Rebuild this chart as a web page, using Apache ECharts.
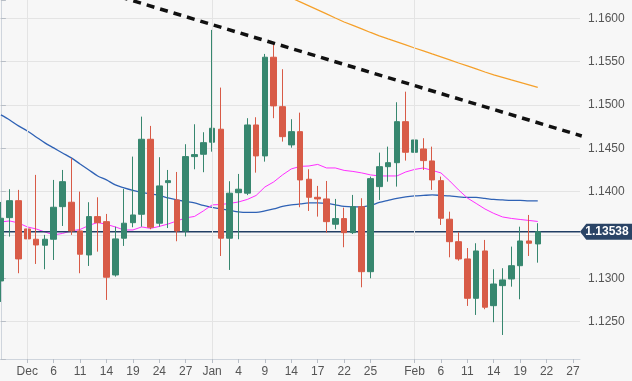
<!DOCTYPE html>
<html><head><meta charset="utf-8">
<script src="https://cdn.jsdelivr.net/npm/echarts@6/dist/echarts.min.js"></script>
<style>html,body{margin:0;padding:0;background:#f7f7f7}#c{width:632px;height:381px}</style>
</head><body><div id="c"></div><script>
const dates = [
 '2018-11-28','2018-11-29','2018-11-30',
 '2018-12-03','2018-12-04','2018-12-05','2018-12-06','2018-12-07',
 '2018-12-10','2018-12-11','2018-12-12','2018-12-13','2018-12-14',
 '2018-12-17','2018-12-18','2018-12-19','2018-12-20','2018-12-21',
 '2018-12-24','2018-12-25','2018-12-26','2018-12-27','2018-12-28','2018-12-31',
 '2019-01-01','2019-01-02','2019-01-03','2019-01-04',
 '2019-01-07','2019-01-08','2019-01-09','2019-01-10','2019-01-11',
 '2019-01-14','2019-01-15','2019-01-16','2019-01-17','2019-01-18',
 '2019-01-21','2019-01-22','2019-01-23','2019-01-24','2019-01-25',
 '2019-01-28','2019-01-29','2019-01-30','2019-01-31',
 '2019-02-01','2019-02-04','2019-02-05','2019-02-06','2019-02-07','2019-02-08',
 '2019-02-11','2019-02-12','2019-02-13','2019-02-14','2019-02-15',
 '2019-02-18','2019-02-19','2019-02-20','2019-02-21','2019-02-22',
 '2019-02-25','2019-02-26','2019-02-27','2019-02-28'
];
const open = [1.12970,1.13700,1.13896,1.13570,1.13451,1.13382,1.13451,1.13827,1.13878,1.13547,
 1.13270,1.13712,1.13654,1.13039,1.13463,1.13642,1.13739,1.14604,1.13636,1.14104,
 1.13904,1.13547,1.14404,1.14431,1.14570,1.14720,1.13463,1.13988,1.13982,1.14769,
 1.14412,1.15550,1.14980,1.14539,1.14692,1.14143,1.13935,1.13916,1.13624,1.13689,
 1.13527,1.13827,1.13077,1.14058,1.14288,1.14334,1.14807,1.14454,1.14492,1.14354,
 1.14127,1.13682,1.13423,1.13224,1.12770,1.13316,1.12685,1.12916,1.12993,1.13146,
 1.13431,1.13397];
const high = [1.13881,1.14028,1.14020,1.13809,1.14193,1.13501,1.14135,1.14250,1.14385,1.14000,
 1.13878,1.13935,1.13743,1.13596,1.14031,1.14404,1.14865,1.14758,1.14397,1.14250,
 1.14227,1.14547,1.14777,1.14685,1.15865,1.15200,1.14120,1.14204,1.14847,1.14858,
 1.15588,1.15723,1.15412,1.14835,1.14911,1.14258,1.14066,1.14123,1.13916,1.13815,
 1.13962,1.13924,1.14173,1.14450,1.14519,1.15031,1.15153,1.14904,1.14616,1.14519,
 1.14173,1.13769,1.13532,1.13350,1.13405,1.13443,1.13105,1.13117,1.13366,1.13596,
 1.13731,1.13636];
const low = [1.12728,1.13481,1.13059,1.13212,1.13166,1.13105,1.13212,1.13604,1.13501,1.13059,
 1.13143,1.13308,1.12751,1.13020,1.13374,1.13589,1.13596,1.13566,1.13596,1.13580,
 1.13428,1.13483,1.14258,1.14224,1.14461,1.13258,1.13097,1.13451,1.13960,1.14219,
 1.14346,1.14847,1.14577,1.14507,1.13820,1.13777,1.13712,1.13527,1.13566,1.13359,
 1.13512,1.12897,1.13001,1.13904,1.14115,1.14058,1.14358,1.14346,1.14250,1.14020,
 1.13616,1.13243,1.13204,1.12682,1.12578,1.12644,1.12494,1.12347,1.12904,1.12759,
 1.13258,1.13181];
const close = [1.13693,1.13896,1.13224,1.13455,1.13385,1.13451,1.13820,1.14115,1.13547,1.13278,
 1.13712,1.13642,1.13013,1.13455,1.13636,1.13731,1.14604,1.13589,1.14066,1.14127,
 1.13547,1.14404,1.14427,1.14565,1.14731,1.13463,1.13982,1.14028,1.14769,1.14412,
 1.15550,1.14989,1.14634,1.14692,1.14135,1.13935,1.13916,1.13654,1.13689,1.13527,
 1.13827,1.13077,1.14150,1.14288,1.14334,1.14807,1.14454,1.14596,1.14358,1.14135,
 1.13693,1.13423,1.13224,1.12770,1.13316,1.12667,1.12935,1.12982,1.13146,1.13431,
 1.13405,1.13538];
// moving averages, one value per candle
const maFast = [1.13651,1.13662,1.13639,1.13593,1.13570,1.13535,1.13501,1.13518,1.13547,1.13564,
 1.13610,1.13645,1.13622,1.13593,1.13558,1.13558,1.13593,1.13576,1.13599,1.13627,
 1.13662,1.13697,1.13714,1.13777,1.13847,1.13852,1.13864,1.13881,1.13910,1.13956,
 1.14054,1.14112,1.14193,1.14262,1.14291,1.14296,1.14314,1.14273,1.14273,1.14245,
 1.14233,1.14216,1.14193,1.14181,1.14181,1.14181,1.14227,1.14256,1.14273,1.14245,
 1.14216,1.14123,1.14020,1.13927,1.13864,1.13800,1.13749,1.13708,1.13691,1.13679,
 1.13668,1.13656];
const maMid = [1.14885,1.14827,1.14758,1.14700,1.14631,1.14562,1.14504,1.14446,1.14389,1.14319,
 1.14250,1.14181,1.14135,1.14077,1.14043,1.14014,1.13991,1.13973,1.13956,1.13927,
 1.13904,1.13887,1.13870,1.13841,1.13818,1.13800,1.13783,1.13766,1.13760,1.13760,
 1.13777,1.13800,1.13829,1.13847,1.13858,1.13870,1.13870,1.13864,1.13847,1.13829,
 1.13824,1.13824,1.13841,1.13875,1.13899,1.13922,1.13939,1.13950,1.13956,1.13962,
 1.13956,1.13950,1.13939,1.13933,1.13933,1.13922,1.13910,1.13904,1.13899,1.13899,
 1.13893,1.13893];
const maSlow = [null,null,null,null,null,null,null,null,null,null,
 null,null,null,null,null,null,null,null,null,null,
 null,null,null,null,null,null,null,null,null,null,
 1.16384,1.16338,1.16280,1.16234,1.16188,1.16142,1.16096,1.16050,1.16003,1.15957,
 1.15917,1.15877,1.15836,1.15796,1.15761,1.15727,1.15692,1.15657,1.15623,1.15588,
 1.15554,1.15519,1.15484,1.15450,1.15415,1.15380,1.15346,1.15317,1.15288,1.15260,
 1.15231,1.15202];
const trendDates = ['2018-12-14','2019-02-28'];
const trendValues = [1.16293, 1.14642];
const tickDates = ['2018-12-03','2018-12-06','2018-12-11','2018-12-14','2018-12-19','2018-12-24','2018-12-27',
 '2019-01-01','2019-01-04','2019-01-09','2019-01-14','2019-01-17','2019-01-22','2019-01-25',
 '2019-02-01','2019-02-06','2019-02-11','2019-02-14','2019-02-19','2019-02-22','2019-02-27'];
const tickLabels = ['Dec','6','11','14','19','24','27','Jan','4','9','14','17','22','25','Feb','6','11','14','19','22','27'];
const monthStarts = ['2018-12-03','2019-01-01','2019-02-01'];

const idx = d => dates.indexOf(d);
const tickPos = tickDates.map(idx);
const labelOf = {};
tickPos.forEach((p, i) => { labelOf[p] = tickLabels[i]; });
const candleData = open.map((o, i) => [i, o, close[i], low[i], high[i]]);
const lineData = arr => arr.map((v, i) => [i, v]);
const lastClose = close[close.length - 1];
const X_MIN = -0.1, X_MAX = 65.8;

const chart = echarts.init(document.getElementById('c'));
const font = 'Liberation Sans, Arial, sans-serif';
chart.setOption({
  animation: false,
  backgroundColor: '#f7f7f7',
  grid: { left: 0, right: 52, top: 0, bottom: 22 },
  xAxis: {
    type: 'value', min: X_MIN, max: X_MAX,
    axisLine: { show: true, lineStyle: { color: '#cfd5dd' } },
    axisTick: { show: true, customValues: tickPos, length: 4, lineStyle: { color: '#b8bec6' } },
    axisLabel: { customValues: tickPos, formatter: v => labelOf[Math.round(v)] || '', color: '#555', fontSize: 12, fontFamily: font, margin: 7 },
    splitLine: { show: false }
  },
  yAxis: {
    type: 'value', position: 'right', min: 1.1207, max: 1.1621, splitNumber: 8, scale: true,
    axisLine: { show: true, lineStyle: { color: '#cfd5dd' } },
    axisTick: { show: true, length: 5, lineStyle: { color: '#b8bec6' } },
    axisLabel: {
      color: '#555', fontSize: 12, fontFamily: font, margin: 8,
      formatter: v => (Math.abs(v / 0.005 - Math.round(v / 0.005)) < 1e-6 ? v.toFixed(4) : '')
    },
    splitLine: { show: true, showMinLine: false, showMaxLine: false, lineStyle: { color: '#e4e4e4', width: 1 } }
  },
  series: [
    {
      type: 'line', data: monthStarts.map(d => [idx(d), null]), silent: true, symbol: 'none',
      markLine: {
        silent: true, symbol: 'none', label: { show: false },
        lineStyle: { color: '#e4e4e4', width: 1, type: 'solid' },
        data: monthStarts.map(d => ({ xAxis: idx(d) }))
      }
    },
    {
      type: 'line', data: lineData(maSlow), symbol: 'none', silent: true, z: 3,
      lineStyle: { color: '#f5a02a', width: 1.2 }
    },
    {
      type: 'line', data: lineData(maMid), symbol: 'none', silent: true, z: 3, smooth: 0.3,
      lineStyle: { color: '#2f62b5', width: 1.3 }
    },
    {
      type: 'line', data: lineData(maFast), symbol: 'none', silent: true, z: 3,
      lineStyle: { color: '#ff2eff', width: 1 }
    },
    {
      type: 'candlestick', data: candleData, encode: { x: 0, y: [1, 2, 3, 4] }, barWidth: 6, z: 4,
      itemStyle: { color: '#37876f', color0: '#d85b47', borderColor: '#37876f', borderColor0: '#d85b47', borderWidth: 1 }
    },
    {
      type: 'line', data: [[X_MIN, lastClose], [X_MAX, lastClose]], symbol: 'none', silent: true, z: 4,
      lineStyle: { color: '#223e64', width: 1.5 },
      markPoint: {
        silent: true,
        symbol: 'path://M0,8 L7,0 L60,0 L60,16 L7,16 Z',
        symbolSize: [54, 16], symbolKeepAspect: false, symbolOffset: [27, 0],
        itemStyle: { color: '#2a4466' },
        label: { show: true, position: 'inside', formatter: lastClose.toFixed(5), color: '#fff', fontWeight: 'bold', fontSize: 12, fontFamily: font },
        data: [{ coord: [X_MAX, lastClose] }]
      }
    },
    {
      type: 'line', data: trendDates.map((d, i) => [idx(d), trendValues[i]]), symbol: 'none', silent: true, z: 5,
      lineStyle: { color: '#111', width: 3.5, type: [8, 6] }
    }
  ]
});
</script></body></html>
